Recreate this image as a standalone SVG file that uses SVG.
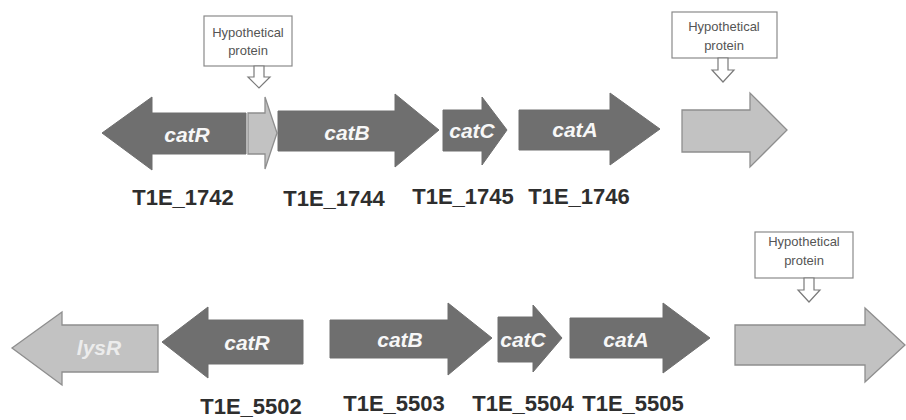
<svg xmlns="http://www.w3.org/2000/svg" width="906" height="420" viewBox="0 0 906 420">
<style>
.dark{fill:#6f6f6f;stroke:#6f6f6f;stroke-width:1}
.light{fill:#c2c2c2;stroke:#8e8e8e;stroke-width:1.3}
.gname{font-family:"Liberation Sans",Arial,sans-serif;font-weight:bold;font-style:italic;font-size:21px;fill:#f7f7f7;text-anchor:middle}
.gname2{font-family:"Liberation Sans",Arial,sans-serif;font-weight:bold;font-style:italic;font-size:21px;fill:#ececec;text-anchor:middle}
.locus{font-family:"Liberation Sans",Arial,sans-serif;font-weight:bold;font-size:22px;fill:#2e2e2e;text-anchor:middle}
.box{fill:#ffffff;stroke:#8a8a8a;stroke-width:1.2}
.btxt{font-family:"Liberation Sans",Arial,sans-serif;font-size:13px;fill:#555555;text-anchor:middle}
.callout{fill:#ffffff;stroke:#7a7a7a;stroke-width:1.2}
</style>
<rect width="906" height="420" fill="#ffffff"/>

<!-- Top row -->
<g id="top-catR">
<polygon class="dark" points="102,133 152,97 152,113 246,113 246,154 152,154 152,170"/>
<text class="gname" x="187" y="142">catR</text>
</g>
<g id="top-hyp-small">
<polygon class="light" points="248,113 265,113 265,97 277,133 265,169 265,154 248,154"/>
</g>
<g id="top-catB">
<polygon class="dark" points="278,111 395,111 395,94 439,130 395,167 395,151 278,151"/>
<text class="gname" x="347" y="140">catB</text>
</g>
<g id="top-catC">
<polygon class="dark" points="443,110 482,110 482,97 507,130 482,165 482,151 443,151"/>
<text class="gname" x="472" y="138">catC</text>
</g>
<g id="top-catA">
<polygon class="dark" points="519,110 610,110 610,93 660,129 610,165 610,150 519,150"/>
<text class="gname" x="575" y="137">catA</text>
</g>
<g id="top-hyp-large">
<polygon class="light" points="682,110 750,110 750,93 787,130 750,167 750,152 682,152"/>
</g>
<g id="top-box1">
<rect class="box" x="204" y="16" width="88" height="50"/>
<text class="btxt" x="248" y="37">Hypothetical</text>
<text class="btxt" x="248" y="55">protein</text>
</g>
<g id="top-box2">
<rect class="box" x="672" y="12" width="105" height="46"/>
<text class="btxt" x="724" y="31">Hypothetical</text>
<text class="btxt" x="724" y="50">protein</text>
</g>
<g id="top-labels">
<text class="locus" x="183" y="205">T1E_1742</text>
<text class="locus" x="334" y="206">T1E_1744</text>
<text class="locus" x="463" y="204">T1E_1745</text>
<text class="locus" x="579" y="204">T1E_1746</text>
</g>

<!-- Bottom row -->
<g id="bot-lysR">
<polygon class="light" points="12,348 62,312 62,325 158,325 158,372 62,372 62,385"/>
<text class="gname2" x="99" y="355">lysR</text>
</g>
<g id="bot-catR">
<polygon class="dark" points="162,342 208,307 208,320 303,320 303,364 208,364 208,378"/>
<text class="gname" x="247" y="350">catR</text>
</g>
<g id="bot-catB">
<polygon class="dark" points="330,320 448,320 448,303 492,338 448,375 448,358 330,358"/>
<text class="gname" x="400" y="347">catB</text>
</g>
<g id="bot-catC">
<polygon class="dark" points="498,317 533,317 533,305 562,338 533,372 533,362 498,362"/>
<text class="gname" x="523" y="347">catC</text>
</g>
<g id="bot-catA">
<polygon class="dark" points="570,318 663,318 663,303 710,338 663,373 663,358 570,358"/>
<text class="gname" x="626" y="347">catA</text>
</g>
<g id="bot-hyp">
<polygon class="light" points="735,325 865,325 865,308 905,345 865,382 865,365 735,365"/>
</g>
<g id="bot-box">
<rect class="box" x="755" y="232" width="98" height="46"/>
<text class="btxt" x="804" y="246">Hypothetical</text>
<text class="btxt" x="804" y="265">protein</text>
</g>
<g id="bot-labels">
<text class="locus" x="251" y="414">T1E_5502</text>
<text class="locus" x="394" y="411">T1E_5503</text>
<text class="locus" x="523" y="411">T1E_5504</text>
<text class="locus" x="633" y="411">T1E_5505</text>
</g>

<g id="connectors">
<polygon class="callout" points="254,66 264,66 264,77 270,77 259,88 248,77 254,77"/>
<polygon class="callout" points="718,58 728,58 728,70 734,70 723,82 712,70 718,70"/>
<polygon class="callout" points="804,278 814,278 814,290 820,290 809,302 798,290 804,290"/>
</g>
</svg>
